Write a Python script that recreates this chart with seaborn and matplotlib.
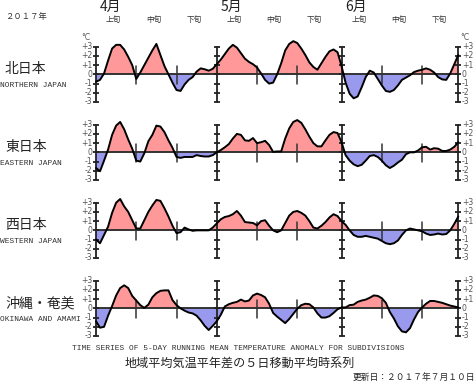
import numpy as np
import pandas as pd
import matplotlib
matplotlib.use("Agg")
import matplotlib.pyplot as plt
import seaborn as sns

# -----------------------------
# Data: daily 5-day running mean anomaly (deg C), Apr 1 - Jun 30, 2017
# -----------------------------
northern = [-0.8, -0.6, 0.1, 1.5, 2.8, 3.2, 3.2, 2.7, 1.9, 1.0,
            -0.5, 0.2, 1.0, 1.8, 2.6, 3.3, 2.1, 0.9, 0.0, -0.9,
            -1.7, -1.8, -1.1, -0.6, -0.3, 0.3, 0.65, 0.55, 0.4, 0.6,
            1.1, 1.6, 2.2, 2.8, 3.2, 2.9, 2.3, 1.7, 1.35, 1.1,
            0.75, 0.1, -0.6, -1.0, -0.9, 0.0, 1.2, 2.6, 3.3, 3.6,
            3.4, 2.8, 2.1, 1.3, 0.8, 0.5, 1.2, 1.9, 2.5, 2.7,
            2.4, 0.9, -0.9, -2.1, -2.6, -2.4, -1.4, -0.3, 0.4, 0.2,
            -0.5, -1.2, -1.8, -1.9, -1.7, -1.2, -0.6, -0.35, -0.1, 0.25,
            0.4, 0.5, 0.65, 0.5, 0.2, -0.3, -0.55, -0.6, 0.1, 1.1, 2.1]

eastern = [-1.7, -2.05, -0.9, 0.3, 1.9, 2.9, 3.3, 2.5, 1.4, 0.4,
           -0.9, -1.0, -0.1, 1.2, 1.9, 2.9, 2.8, 2.2, 1.3, 0.5,
           -0.5, -0.6, -0.5, -0.5, -0.5, -0.3, -0.4, -0.45, -0.45, -0.3,
           0.0, 0.25, 0.55, 0.9, 1.5, 2.0, 1.9, 1.3, 1.25, 1.55,
           1.0, 1.1, 1.25, 0.8, 0.05, 0.1, 0.1, 1.5, 2.6, 3.3,
           3.5, 3.2, 2.5, 1.7, 1.0, 0.65, 0.65, 1.3, 1.9, 2.2,
           2.1, 1.1, -0.3, -0.9, -1.3, -1.5, -1.35, -0.9, -0.4, -0.3,
           -0.5, -0.9, -1.4, -1.7, -1.45, -1.1, -0.8, -0.2, 0.0, 0.0,
           0.2, 0.55, 0.6, 0.3, 0.45, 0.4, 0.15, 0.15, 0.3, 0.6, 1.1]

western = [-1.0, -1.4, -0.5, 0.4, 1.9, 3.0, 3.4, 2.6, 2.0, 1.1,
           0.2, 0.2, 1.1, 2.0, 2.7, 3.3, 3.2, 2.4, 1.5, 0.5,
           -0.3, -0.2, 0.3, 0.1, -0.05, 0.0, 0.0, 0.0, 0.0, 0.3,
           0.75, 1.2, 1.45, 1.55, 1.75, 2.1, 1.6, 0.9, 0.85, 0.8,
           0.55, 1.0, 1.1, 0.5, 0.0, -0.2, 0.0, 0.8, 1.6, 2.0,
           2.1, 1.9, 1.6, 1.0, 0.3, 0.2, 0.5, 0.9, 1.4, 1.75,
           1.55, 1.0, 0.6, 0.0, -0.5, -0.7, -0.7, -0.6, -0.7, -0.8,
           -0.9, -1.15, -1.4, -1.5, -1.4, -1.1, -0.5, 0.0, 0.2, 0.1,
           0.0, -0.1, -0.35, -0.5, -0.45, -0.35, -0.45, -0.4, 0.0, 0.7, 1.5]

okinawa = [-1.4, -2.1, -2.0, -0.8, 0.25, 1.4, 2.2, 2.5, 2.2, 1.35,
           0.85, 0.35, 0.05, 0.4, 1.2, 1.65, 1.9, 1.95, 1.95, 0.9,
           0.35, 0.0, -0.25, -0.45, -0.55, -0.8, -1.3, -1.9, -2.35, -1.9,
           -1.4, -0.7, 0.2, 0.45, 0.6, 0.7, 0.95, 0.75, 0.85, 1.4,
           1.6, 1.45, 1.2, 0.5, -0.5, -0.9, -1.25, -1.6, -1.15, -0.6,
           -0.05, 0.35, 0.5, 0.45, 0.1, -0.55, -1.0, -1.0, -0.85, -0.5,
           -0.1, 0.1, 0.1, 0.35, 0.4, 0.7, 0.85, 0.95, 1.15, 1.4,
           1.35, 1.1, 0.6, -0.4, -1.1, -1.95, -2.5, -2.6, -2.15, -1.2,
           -0.4, 0.1, 0.5, 0.8, 0.8, 0.7, 0.6, 0.45, 0.3, 0.2, 0.1]

region_names = ["北日本", "東日本", "西日本", "沖縄・奄美"]
region_names_en = ["NORTHERN JAPAN", "EASTERN JAPAN", "WESTERN JAPAN", "OKINAWA AND AMAMI"]
series = [northern, eastern, western, okinawa]

month_labels = ["4月", "5月", "6月"]
month_starts = [0, 30, 61]          # day index of Apr 1, May 1, Jun 1
period_labels = ["上旬", "中旬", "下旬"]
y_tick_values = [3, 2, 1, 0, -1, -2, -3]
y_tick_labels = ["+3", "+2", "+1", "0", "-1", "-2", "-3"]

days = np.arange(len(northern))

# -----------------------------
# Style
# -----------------------------
sns.set_style("white")
plt.rcParams['font.family'] = ['Noto Sans CJK JP', 'DejaVu Sans']
mono = 'Liberation Mono'
gray = '#555555'
pos_color = '#ff9999'
neg_color = '#9999ee'

W, H = 476, 382
fig = plt.figure(figsize=(W / 100, H / 100), dpi=100)


def fx(px):
    return px / W


def fy(py):
    return 1 - py / H


x_left, x_right = 96.0, 458.3
panel_tops = [46.7, 124.7, 202.7, 280.7]
panel_h = 55.3
px_per_day = (x_right - x_left) / 90

for i, vals in enumerate(series):
    top = panel_tops[i]
    ax = fig.add_axes([fx(x_left), fy(top + panel_h), (x_right - x_left) / W, panel_h / H])

    y = np.array(vals)
    df = pd.DataFrame({"day": days, "anomaly": y})

    ax.fill_between(days, y, 0, where=y >= 0, interpolate=True,
                    color=pos_color, lw=0, clip_on=False)
    ax.fill_between(days, y, 0, where=y <= 0, interpolate=True,
                    color=neg_color, lw=0, clip_on=False)
    ax.axhline(0, color='#333333', lw=1.4, zorder=2)

    # month boundary axes with degree ticks
    for xb in month_starts + [90]:
        ax.plot([xb, xb], [-3, 3], color='#222222', lw=1.3, clip_on=False, zorder=3)
        ax.plot([xb] * len(y_tick_values), y_tick_values, ls='none', marker='_',
                markersize=4.5, mew=1.3, color='#222222', clip_on=False, zorder=3)
    # dekad ticks
    for ms in month_starts:
        for k in (10, 20):
            ax.plot([ms + k, ms + k], [-1.0, 0.95], color='#333333', lw=1.1,
                    clip_on=False, zorder=3)

    sns.lineplot(data=df, x="day", y="anomaly", ax=ax, color='black', lw=1.4,
                 zorder=4, clip_on=False)
    ax.set_xlim(0, 90)
    ax.set_ylim(-3, 3)
    ax.axis('off')

    # y tick labels left and right
    for v, lab in zip(y_tick_values, y_tick_labels):
        py = top + (3 - v) * panel_h / 6
        fig.text(fx(92.5), fy(py), lab, ha='right', va='center', fontsize=5.6,
                 color=gray, family='DejaVu Sans')
        fig.text(fx(462), fy(py), lab, ha='left', va='center', fontsize=5.6,
                 color=gray, family='DejaVu Sans')

    zero_py = top + panel_h / 2
    fig.text(fx(5), fy(zero_py - 5), region_names[i], ha='left', va='center',
             fontsize=10)
    fig.text(fx(0.5), fy(zero_py + 11.5), region_names_en[i], ha='left', va='center',
             fontsize=5.7, family=mono, color='#333333')

# degree C labels
fig.text(fx(81), fy(37), "°C", ha='left', va='center', fontsize=5.5, color=gray,
         family='DejaVu Sans')
fig.text(fx(460), fy(37), "°C", ha='left', va='center', fontsize=5.5, color=gray,
         family='DejaVu Sans')

# month and dekad labels
for ms, lab in zip(month_starts, month_labels):
    fig.text(fx(x_left + ms * px_per_day + 4), fy(7), lab, ha='left', va='center',
             fontsize=10, color='#222222')
    for k, plab in enumerate(period_labels):
        cx = x_left + (ms + 4.3 + 10 * k) * px_per_day
        fig.text(fx(cx), fy(20), plab, ha='center', va='center', fontsize=5.5,
                 color='#333333')

fig.text(fx(5), fy(16), "２０１７年", ha='left', va='center', fontsize=6,
         color='#333333')

# bottom captions
fig.text(fx(238), fy(348), "TIME SERIES OF 5-DAY RUNNING MEAN TEMPERATURE ANOMALY FOR SUBDIVISIONS",
         ha='center', va='center', fontsize=5.7, family=mono, color='#333333')
fig.text(fx(240), fy(363), "地域平均気温平年差の５日移動平均時系列", ha='center', va='center',
         fontsize=8.7, color='#222222')
fig.text(fx(475), fy(377), "更新日：２０１７年７月１０日", ha='right', va='center',
         fontsize=6.3, color='#222222')

plt.savefig("out.png", dpi=100)
